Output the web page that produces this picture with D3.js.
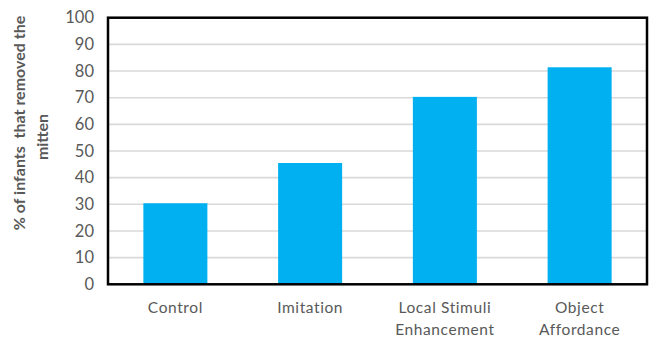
<!DOCTYPE html>
<html>
<head>
<meta charset="utf-8">
<script src="https://cdn.jsdelivr.net/npm/d3@7"></script>
<style>
  body { margin: 0; background: #fff; }
  svg { display: block; font-family: Lato, "Open Sans", sans-serif; }
</style>
</head>
<body>
<div id="chart"></div>
<script>
const WIDTH = 652;
const HEIGHT = 338;

// data
const categories = ['Control', 'Imitation', 'Local Stimuli Enhancement', 'Object Affordance'];
const categoryLines = [['Control'], ['Imitation'], ['Local Stimuli', 'Enhancement'], ['Object', 'Affordance']];
const values = [30.4, 45.5, 70.3, 81.4];
const yTicks = [0, 10, 20, 30, 40, 50, 60, 70, 80, 90, 100];
const yTitle = ['% of infants  that removed the', 'mitten'];

const margin = {top: 17.7, right: 5, bottom: 53.7, left: 108};

const svg = d3.select('#chart')
  .append('svg')
  .attr('width', WIDTH)
  .attr('height', HEIGHT);

const xScale = d3.scaleBand()
  .domain(categories)
  .range([margin.left, WIDTH - margin.right])
  .paddingInner(0.525)
  .paddingOuter(0.2625);

const yScale = d3.scaleLinear()
  .domain([0, 100])
  .range([HEIGHT - margin.bottom, margin.top]);

// gridlines
svg.append('g')
  .selectAll('line')
  .data(yTicks.slice(1, -1))
  .enter()
  .append('line')
  .attr('x1', margin.left)
  .attr('x2', WIDTH - margin.right)
  .attr('y1', d => yScale(d))
  .attr('y2', d => yScale(d))
  .attr('stroke', '#d9d9d9')
  .attr('stroke-width', 1.6);

// bars
svg.selectAll('rect.bar')
  .data(values)
  .enter()
  .append('rect')
  .attr('class', 'bar')
  .attr('x', (d, i) => xScale(categories[i]))
  .attr('y', d => yScale(d))
  .attr('width', xScale.bandwidth())
  .attr('height', d => yScale(0) - yScale(d))
  .attr('fill', '#00b0f0');

// plot border
svg.append('rect')
  .attr('x', margin.left)
  .attr('y', margin.top)
  .attr('width', WIDTH - margin.right - margin.left)
  .attr('height', HEIGHT - margin.bottom - margin.top)
  .attr('fill', 'none')
  .attr('stroke', '#000')
  .attr('stroke-width', 2.5);

// y axis
const yAxis = d3.axisLeft(yScale).tickValues(yTicks).tickSize(0).tickPadding(14);
const yg = svg.append('g')
  .attr('transform', 'translate(' + margin.left + ',0)')
  .call(yAxis);
yg.select('.domain').remove();
yg.selectAll('text')
  .attr('fill', '#595959')
  .style('font-size', '16.5px')
  .style('font-family', 'Lato, sans-serif');

// x axis labels
const xg = svg.append('g');
categories.forEach((c, i) => {
  const t = xg.append('text')
    .attr('x', xScale(c) + xScale.bandwidth() / 2)
    .attr('y', 313)
    .attr('text-anchor', 'middle')
    .attr('fill', '#595959')
    .style('font-size', '15.5px')
    .style('letter-spacing', '0.6px');
  categoryLines[i].forEach((line, j) => {
    t.append('tspan')
      .attr('x', xScale(c) + xScale.bandwidth() / 2)
      .attr('dy', j === 0 ? 0 : 22)
      .text(line);
  });
});

// y axis title
const titleCenters = [123, 137];
yTitle.forEach((line, j) => {
  svg.append('text')
    .attr('transform', 'translate(' + (25 + j * 23) + ',' + titleCenters[j] + ') rotate(-90)')
    .attr('text-anchor', 'middle')
    .attr('fill', '#595959')
    .style('font-size', '16px')
    .style('font-weight', 'bold')
    .style('white-space', 'pre')
    .text(line);
});
</script>
</body>
</html>
